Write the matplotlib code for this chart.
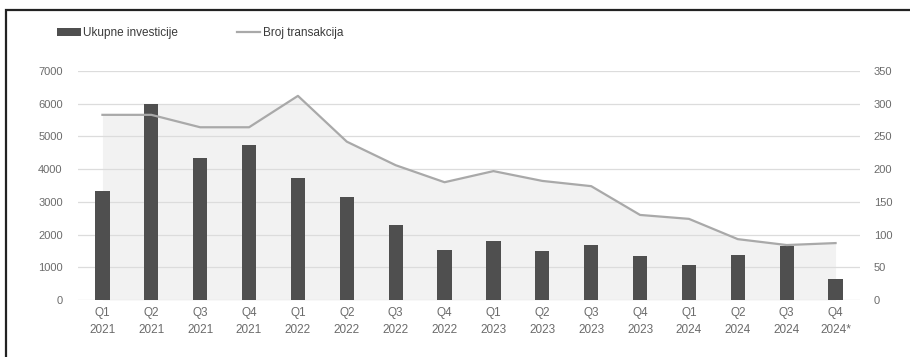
import numpy as np
import matplotlib
matplotlib.use("Agg")
import matplotlib.pyplot as plt
from matplotlib.patches import Patch, Rectangle
from matplotlib.lines import Line2D

plt.rcParams['font.family'] = ['Liberation Sans', 'DejaVu Sans']

quarters = ["Q1\n2021", "Q2\n2021", "Q3\n2021", "Q4\n2021",
            "Q1\n2022", "Q2\n2022", "Q3\n2022", "Q4\n2022",
            "Q1\n2023", "Q2\n2023", "Q3\n2023", "Q4\n2023",
            "Q1\n2024", "Q2\n2024", "Q3\n2024", "Q4\n2024*"]
investments = [3330, 6000, 4340, 4740, 3730, 3150, 2290, 1530,
               1800, 1500, 1680, 1350, 1070, 1380, 1650, 640]
transactions = [283, 283, 264, 264, 312, 242, 206, 180,
                197, 182, 174, 130, 124, 93, 84, 87]

left_ticks = [0, 1000, 2000, 3000, 4000, 5000, 6000, 7000]
right_ticks = [0, 50, 100, 150, 200, 250, 300, 350]
left_max, right_max = 7000, 350

W, H = 910, 357
fig = plt.figure(figsize=(W / 100, H / 100), dpi=100)
ax = fig.add_axes([78 / W, 1 - 300 / H, (860 - 78) / W, (300 - 71) / H])
ax2 = ax.twinx()

x = np.arange(len(quarters))
grey_fill = "#f2f2f2"
grid_c = "#dcdcdc"
text_c = "#6b6b6b"

ax.set_xlim(-0.5, len(quarters) - 0.5)
ax.set_ylim(0, left_max)
ax2.set_ylim(0, right_max)

# shaded area beneath the transaction line, drawn on the primary axis
# (rescaled) so that it stays behind the bars
scale = left_max / right_max
ax.fill_between(x, np.array(transactions) * scale, 0,
                color=grey_fill, lw=0, zorder=0)
ax.fill_between(x[1:5], 6000, 0, color=grey_fill, lw=0, zorder=0)

for t in left_ticks:
    ax.axhline(t, color=grid_c, lw=0.9, zorder=1)

ax.bar(x, investments, width=0.29, color="#4f4f4f", zorder=3)
ax2.plot(x, transactions, color="#a9a9a9", lw=1.6, zorder=4)

ax2.set_zorder(3)
ax2.patch.set_visible(False)

ax.set_xticks(x)
ax.set_xticklabels(quarters, fontsize=8.5, color=text_c, linespacing=1.6)
ax.set_yticks(left_ticks)
ax.set_yticklabels([str(v) for v in left_ticks], fontsize=8, color=text_c)
ax2.set_yticks(right_ticks)
ax2.set_yticklabels([str(v) for v in right_ticks], fontsize=8, color=text_c)

ax.tick_params(axis='both', length=0)
ax.tick_params(axis='y', pad=11)
ax.tick_params(axis='x', pad=5)
ax2.tick_params(axis='y', length=0, pad=10)
for a in (ax, ax2):
    for s in a.spines.values():
        s.set_visible(False)

handles = [Patch(facecolor="#4f4f4f", edgecolor="none"),
           Line2D([0], [0], color="#a9a9a9", lw=1.6)]
fig.legend(handles, ["Ukupne investicije", "Broj transakcija"],
           loc="center left", bbox_to_anchor=(57 / W, 1 - 33 / H),
           ncol=2, frameon=False, fontsize=8.5, labelcolor="#3a3a3a",
           handlelength=2.0, handleheight=0.6, handletextpad=0.2,
           columnspacing=5.0, borderaxespad=0, borderpad=0)

# outer frame
fig.add_artist(Rectangle((6 / W, -0.2), 1.2, 1.2 - 10 / H,
                         transform=fig.transFigure, fill=False,
                         edgecolor="#222222", lw=1.6))

fig.savefig("out.png", dpi=100, facecolor="white")
